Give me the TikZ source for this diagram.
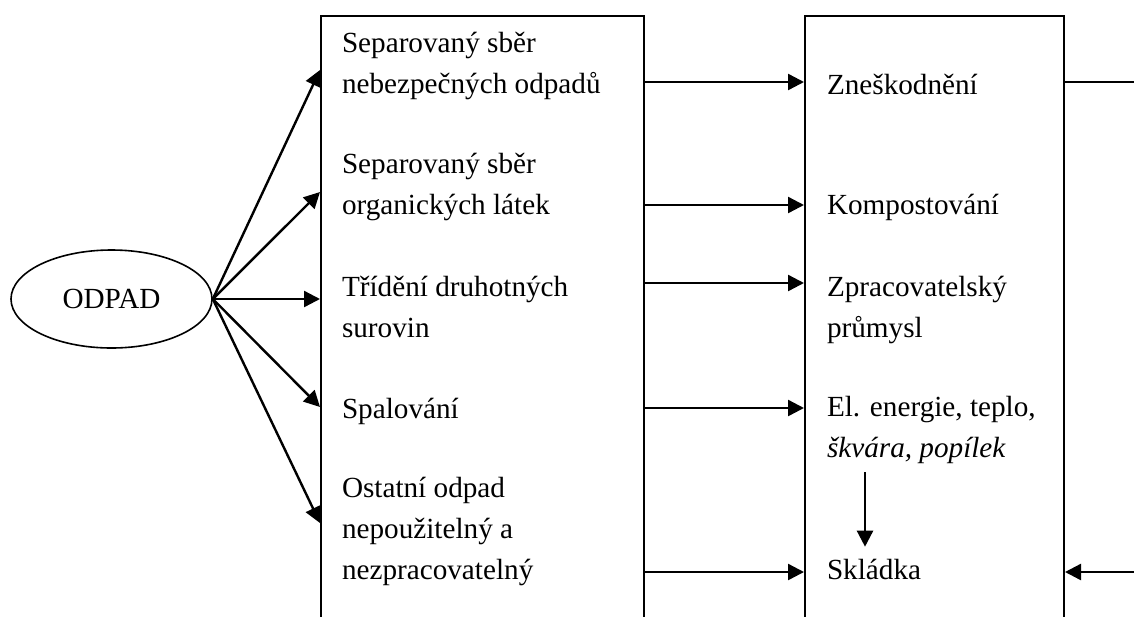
\documentclass[tikz,border=0pt]{standalone}
\usepackage{fontspec}
\setmainfont{Liberation Serif}
\usetikzlibrary{arrows.meta,positioning,shapes.geometric}

\begin{document}
\begin{tikzpicture}[
  x=0.5pt, y=-0.5pt,
  line width=1pt,
  box/.style={draw, rectangle, inner sep=0pt, anchor=north west, minimum height=350pt},
  item/.style={anchor=base west, inner sep=0pt, align=left, font=\fontsize{14.6}{20.3}\selectfont},
  arr/.style={line width=1.2pt, -{Triangle[length=8pt,width=8pt]}},
]
  \useasboundingbox (0,0) rectangle (1134,616);
  \clip (0,0) rectangle (1134,616);

  % Nodes
  \node[draw, ellipse, line width=0.8pt, minimum width=100.5pt, minimum height=49pt, inner sep=0pt, font=\fontsize{14.6}{20.3}\selectfont] (odpad) at (111.5,299) {ODPAD};
  \node[box, minimum width=161.5pt] (box1) at (320,15) {};
  \node[box, minimum width=129.5pt] (box2) at (804,15) {};

  % Ways of handling (placed at the baseline of the last line)
  \node[item] (s1) at (341,93) {Separovaný sběr\\nebezpečných odpadů};
  \node[item] (s2) at (341,214) {Separovaný sběr\\organických látek};
  \node[item] (s3) at (341,337) {Třídění druhotných\\surovin};
  \node[item] (s4) at (341,418) {Spalování};
  \node[item] (s5) at (341,579) {Ostatní odpad\\nepoužitelný a\\nezpracovatelný};

  % Results
  \node[item] (d1) at (826,94) {Zneškodnění};
  \node[item] (d2) at (826,214) {Kompostování};
  \node[item] (d3) at (826,337) {Zpracovatelský\\průmysl};
  \node[item] (d4) at (826,457) {El. energie, teplo,\\\textit{škvára, popílek}};
  \node[item] (d5) at (826,579) {Skládka};

  % Edges
  \foreach \y in {70,192,299,407,523}
    \draw[arr] (odpad.east) -- (box1.west |- 0,\y);
  \foreach \y in {82,205,283,408,572}
    \draw[arr] (box1.east |- 0,\y) -- (box2.west |- 0,\y);
  \draw[arr, shorten <=4pt, shorten >=5.5pt] (d4.south -| 865,0) -- (d5.north -| 865,0);

  \coordinate (exit) at (1134,82);
  \coordinate (back) at (1134,572);
  \draw (box2.east |- exit) -- (exit);
  \draw[arr] (back) -- (box2.east |- back);
\end{tikzpicture}
\end{document}
